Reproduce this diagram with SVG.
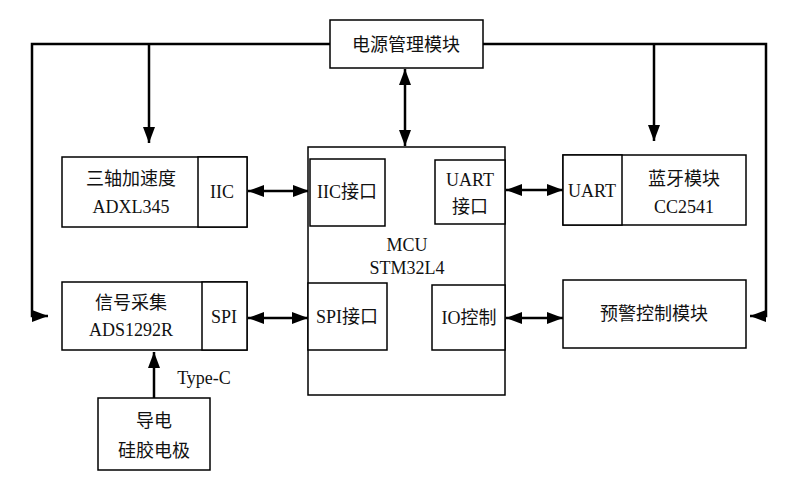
<svg xmlns="http://www.w3.org/2000/svg" width="800" height="496" viewBox="0 0 800 496">
<style>
rect{fill:#fff;stroke:#000;stroke-width:1.5}
text{font-family:"Liberation Serif","Noto Sans CJK SC",serif;font-size:18px;text-anchor:middle;fill:#111}
.c{fill:none;stroke:#000;stroke-width:2.5}
</style>
<defs>
<marker id="b" markerWidth="16" markerHeight="12" refX="16" refY="6" orient="auto-start-reverse" markerUnits="userSpaceOnUse" viewBox="0 0 16 12"><path d="M0,0L16,6L0,12z" fill="#000"/></marker></defs>
<g id="edges">
<path class="c" d="M330,44H32V316H48" marker-end="url(#b)"/>
<path class="c" d="M483,44H766V316H750" marker-end="url(#b)"/>
<path class="c" d="M149,44V143" marker-end="url(#b)"/>
<path class="c" d="M654,44V141" marker-end="url(#b)"/>
<path class="c" d="M405,69V146" marker-start="url(#b)" marker-end="url(#b)"/>
<path class="c" d="M248,191H309" marker-start="url(#b)" marker-end="url(#b)"/>
<path class="c" d="M506,190H563" marker-start="url(#b)" marker-end="url(#b)"/>
<path class="c" d="M248,318H308" marker-start="url(#b)" marker-end="url(#b)"/>
<path class="c" d="M506,318H563" marker-start="url(#b)" marker-end="url(#b)"/>
<path class="c" d="M154,398V352" marker-end="url(#b)"/>
</g>
<g id="power"><rect x="330" y="20" width="153" height="48"/><text x="406" y="51">电源管理模块</text></g>
<g id="mcu"><rect x="308" y="147" width="197" height="248"/><text x="407" y="251">MCU</text><text x="407" y="274">STM32L4</text></g>
<g id="iicp"><rect x="310" y="159" width="75" height="67"/><text x="347" y="198">IIC接口</text></g>
<g id="uartp"><rect x="435" y="160" width="70" height="64"/><text x="470" y="186">UART</text><text x="470" y="213">接口</text></g>
<g id="spip"><rect x="308" y="283" width="79" height="67"/><text x="347" y="323">SPI接口</text></g>
<g id="io"><rect x="432" y="285" width="73" height="65"/><text x="469" y="324">IO控制</text></g>
<g id="adxl"><rect x="62" y="157" width="185" height="70"/><rect x="198" y="157" width="49" height="70"/><text x="131" y="185">三轴加速度</text><text x="131" y="213">ADXL345</text><text x="222" y="198">IIC</text></g>
<g id="ble"><rect x="563" y="155" width="183" height="70"/><rect x="563" y="155" width="59" height="70"/><text x="592" y="197">UART</text><text x="684" y="185">蓝牙模块</text><text x="684" y="213">CC2541</text></g>
<g id="sig"><rect x="62" y="282" width="185" height="68"/><rect x="202" y="282" width="45" height="68"/><text x="131" y="309">信号采集</text><text x="131" y="336">ADS1292R</text><text x="224" y="323">SPI</text></g>
<g id="warn"><rect x="563" y="280" width="183" height="68"/><text x="654" y="320">预警控制模块</text></g>
<g id="elec"><rect x="98" y="398" width="112" height="72"/><text x="154" y="427">导电</text><text x="154" y="457">硅胶电极</text></g>
<text x="204" y="384">Type-C</text>
</svg>
